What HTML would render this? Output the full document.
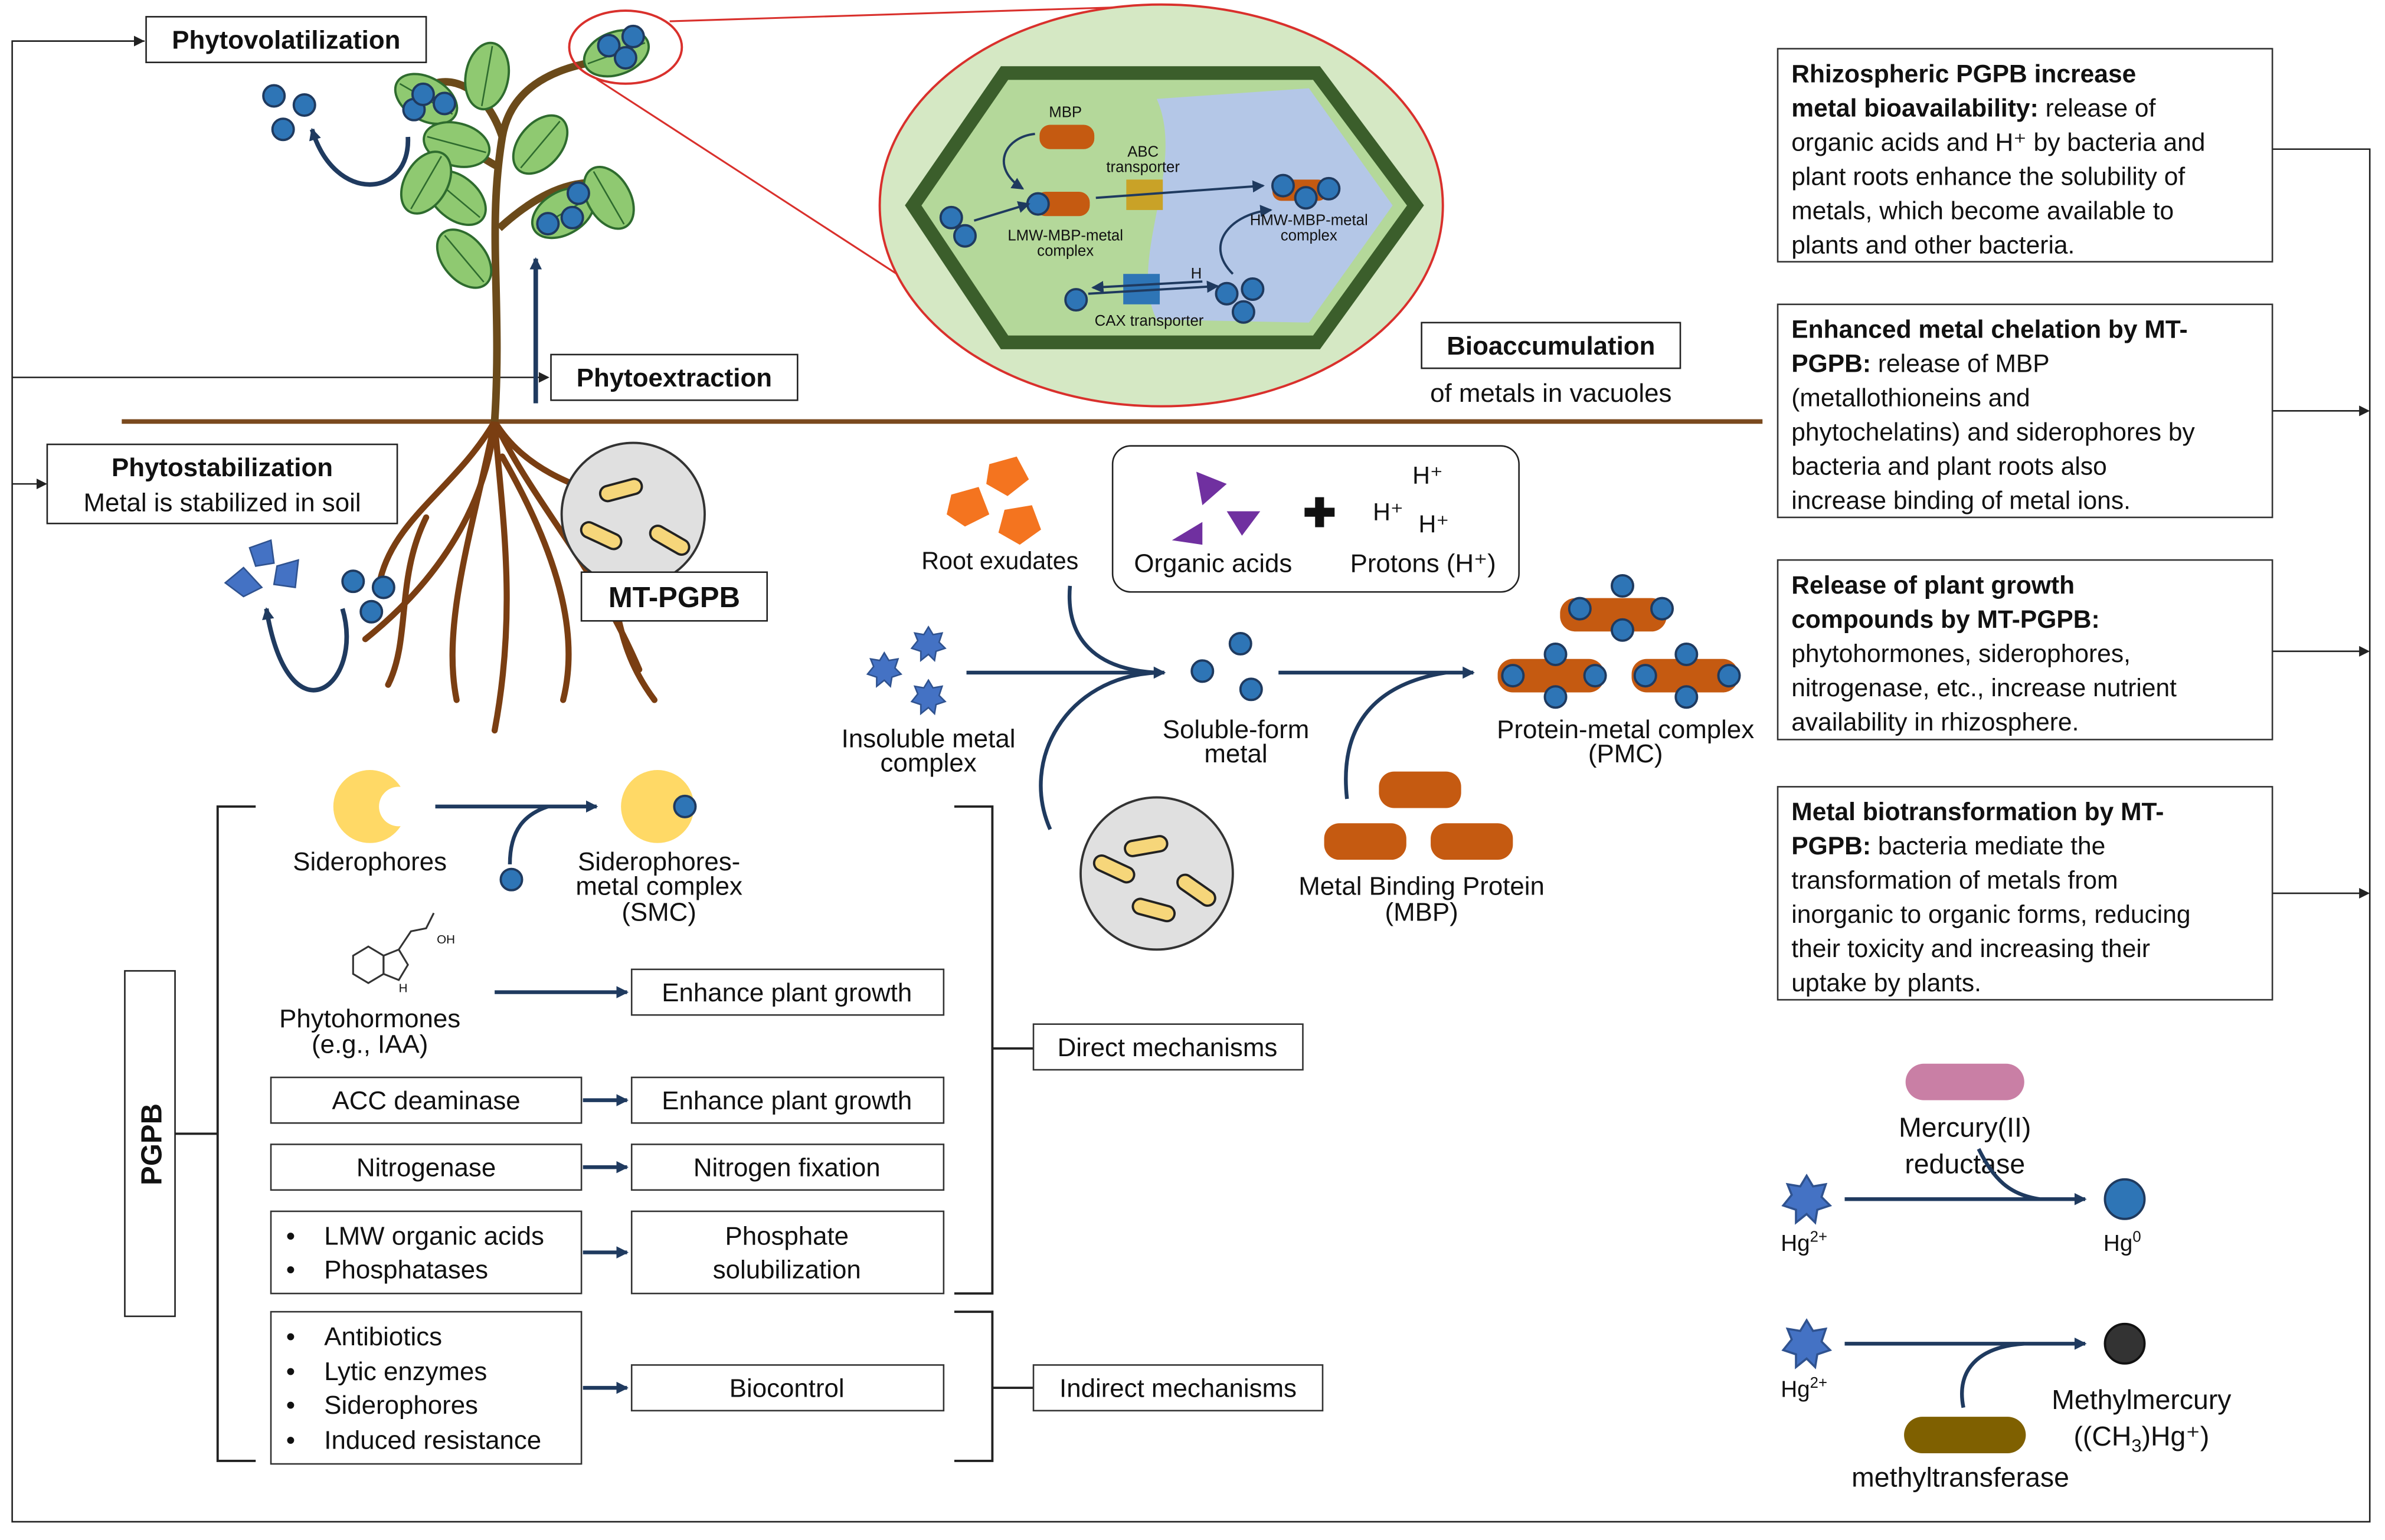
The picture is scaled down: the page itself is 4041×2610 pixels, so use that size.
<!DOCTYPE html>
<html><head><meta charset="utf-8"><style>
html,body{margin:0;padding:0;background:#fff}
svg{display:block}
text{font-family:"Liberation Sans",sans-serif;fill:#111}
</style></head><body>
<svg width="4041" height="2610" viewBox="0 0 1567 1012" preserveAspectRatio="none" xmlns="http://www.w3.org/2000/svg">
<defs>
<marker id="a" markerWidth="8" markerHeight="8" refX="7" refY="4" orient="auto" markerUnits="userSpaceOnUse"><path d="M0,0 L8,4 L0,8 z" fill="#1f3a5f"/></marker>
<marker id="k" markerWidth="7" markerHeight="7" refX="6" refY="3.5" orient="auto" markerUnits="userSpaceOnUse"><path d="M0,0 L7,3.5 L0,7 z" fill="#222"/></marker>
<g id="dot"><circle r="7" fill="#2e75b6" stroke="#1f3a5f" stroke-width="1.5"/></g>
<g id="star"><polygon points="0,-11 3,-6 9,-7 7,-1 11,3 5,5 4,11 0,7 -5,11 -5,5 -11,3 -7,-2 -9,-7 -3,-6" fill="#4472c4" stroke="#2f528f" stroke-width="1"/></g>
<g id="leaf"><ellipse rx="22" ry="14" fill="#8fc971" stroke="#2e6b2e" stroke-width="1.5"/><line x1="-20" y1="0" x2="20" y2="0" stroke="#2e6b2e"/></g>
<g id="bac"><rect x="-14" y="-5" width="28" height="10" rx="5" fill="#f6d67a" stroke="#222" stroke-width="1.5"/></g>
</defs>

<!-- outer frame -->
<g stroke="#222" stroke-width="1" fill="none">
<path d="M95,27 H8 V1000 H1557 V98 H1493"/>
<line x1="8" y1="248" x2="360" y2="248" marker-end="url(#k)"/>
<line x1="8" y1="318" x2="30" y2="318" marker-end="url(#k)"/>
<line x1="8" y1="27" x2="94" y2="27" marker-end="url(#k)"/>
<line x1="1493" y1="270" x2="1556" y2="270" marker-end="url(#k)"/>
<line x1="1493" y1="428" x2="1556" y2="428" marker-end="url(#k)"/>
<line x1="1493" y1="587" x2="1556" y2="587" marker-end="url(#k)"/>
</g>

<!-- ground -->
<line x1="80" y1="277" x2="1158" y2="277" stroke="#7a4a1e" stroke-width="3"/>

<!-- roots -->
<g stroke="#7a3e12" stroke-width="4" fill="none" stroke-linecap="round">
<path d="M325,277 C320,330 290,380 240,420"/>
<path d="M325,277 C330,340 340,400 325,480"/>
<path d="M325,277 C350,330 390,370 420,440"/>
<path d="M325,277 C300,320 260,340 250,380"/>
<path d="M325,277 C345,310 380,320 410,330"/>
<path d="M325,277 C310,350 290,410 300,460"/>
<path d="M330,300 C370,370 380,420 370,460"/>
<path d="M280,340 C260,380 270,420 255,450"/>
<path d="M390,360 C410,390 400,420 430,460"/>
</g>
<!-- stem -->
<g stroke="#6b4a1a" stroke-width="5" fill="none">
<path d="M325,277 C330,200 320,150 330,90 C335,60 360,45 395,40"/>
<path d="M328,150 C350,130 370,120 390,120"/>
<path d="M328,110 C300,95 290,80 270,70"/>
<path d="M330,90 C320,60 300,50 285,55"/>
</g>
<use href="#leaf" transform="translate(405,35) rotate(-20)"/>
<use href="#leaf" transform="translate(280,65) rotate(30)"/>
<use href="#leaf" transform="translate(300,95) rotate(15)"/>
<use href="#leaf" transform="translate(300,130) rotate(40)"/>
<use href="#leaf" transform="translate(280,120) rotate(-60)"/>
<use href="#leaf" transform="translate(305,170) rotate(50)"/>
<use href="#leaf" transform="translate(370,140) rotate(-30)"/>
<use href="#leaf" transform="translate(400,130) rotate(60)"/>
<use href="#leaf" transform="translate(355,95) rotate(-50)"/>
<use href="#leaf" transform="translate(320,50) rotate(-80)"/>
<g>
<use href="#dot" x="400" y="30"/><use href="#dot" x="416" y="24"/><use href="#dot" x="411" y="38"/>
<use href="#dot" x="272" y="72"/><use href="#dot" x="292" y="68"/><use href="#dot" x="278" y="62"/>
<use href="#dot" x="380" y="127"/><use href="#dot" x="360" y="147"/><use href="#dot" x="376" y="143"/>
<use href="#dot" x="180" y="63"/><use href="#dot" x="200" y="69"/><use href="#dot" x="186" y="85"/>
<use href="#dot" x="232" y="382"/><use href="#dot" x="252" y="386"/><use href="#dot" x="244" y="402"/>
</g>
<ellipse cx="411" cy="31" rx="37" ry="24" fill="none" stroke="#d9302c" stroke-width="1.5"/>
<line x1="440" y1="14" x2="760" y2="4" stroke="#d9302c" stroke-width="1.2"/>
<line x1="392" y1="52" x2="620" y2="200" stroke="#d9302c" stroke-width="1.2"/>
<path d="M268,90 C270,130 220,135 205,85" stroke="#1f3a5f" stroke-width="3" fill="none" marker-end="url(#a)"/>
<line x1="352" y1="265" x2="352" y2="170" stroke="#1f3a5f" stroke-width="3" marker-end="url(#a)"/>
<path d="M225,400 C240,450 190,490 175,400" stroke="#1f3a5f" stroke-width="3" fill="none" marker-end="url(#a)"/>
<g fill="#4472c4" stroke="#2f528f"><polygon points="148,383 160,373 172,386 160,392"/><polygon points="164,360 178,355 180,370 168,372"/><polygon points="182,372 196,368 194,386 180,384"/></g>

<!-- labels left -->
<rect x="96" y="11" width="184" height="30" fill="#fff" stroke="#222"/>
<text x="188" y="32" font-size="17" font-weight="bold" text-anchor="middle">Phytovolatilization</text>
<rect x="362" y="233" width="162" height="30" fill="#fff" stroke="#222"/>
<text x="443" y="254" font-size="17" font-weight="bold" text-anchor="middle">Phytoextraction</text>
<rect x="31" y="292" width="230" height="52" fill="#fff" stroke="#222"/>
<text x="146" y="313" font-size="17" font-weight="bold" text-anchor="middle">Phytostabilization</text>
<text x="146" y="336" font-size="17" text-anchor="middle">Metal is stabilized in soil</text>

<!-- MT-PGPB -->
<circle cx="416" cy="338" r="47" fill="#e0e0e0" stroke="#333" stroke-width="1.5"/>
<use href="#bac" transform="translate(408,322) rotate(-15)"/>
<use href="#bac" transform="translate(395,352) rotate(25)"/>
<use href="#bac" transform="translate(440,355) rotate(30)"/>
<rect x="382" y="376" width="122" height="32" fill="#fff" stroke="#222"/>
<text x="443" y="399" font-size="19" font-weight="bold" text-anchor="middle">MT-PGPB</text>

<!-- cell -->
<ellipse cx="763" cy="135" rx="185" ry="132" fill="#d5e8c4" stroke="#d9302c" stroke-width="1.5"/>
<polygon points="600,135 660,48 865,48 930,135 865,225 660,225" fill="#b4d89a" stroke="#3b5e2b" stroke-width="9"/>
<path d="M760,65 L860,58 L915,135 L860,212 L760,210 C740,170 780,110 760,65z" fill="#b4c7e7"/>
<g fill="#c55a11"><rect x="683" y="82" width="36" height="16" rx="7"/><rect x="680" y="126" width="36" height="16" rx="7"/><rect x="836" y="118" width="36" height="14" rx="6"/></g>
<rect x="740" y="118" width="24" height="20" fill="#c9a227"/>
<rect x="738" y="180" width="24" height="20" fill="#2e75b6"/>
<use href="#dot" x="625" y="143"/><use href="#dot" x="634" y="155"/><use href="#dot" x="682" y="134"/>
<use href="#dot" x="843" y="122"/><use href="#dot" x="858" y="130"/><use href="#dot" x="873" y="124"/>
<use href="#dot" x="707" y="197"/><use href="#dot" x="806" y="193"/><use href="#dot" x="823" y="190"/><use href="#dot" x="817" y="205"/>
<g stroke="#1f3a5f" stroke-width="1.5" fill="none">
<line x1="640" y1="145" x2="676" y2="134" marker-end="url(#a)"/>
<path d="M680,88 C660,90 650,110 672,124" marker-end="url(#a)"/>
<line x1="720" y1="130" x2="830" y2="122" marker-end="url(#a)"/>
<line x1="715" y1="193" x2="800" y2="188" marker-end="url(#a)"/>
<line x1="790" y1="185" x2="718" y2="189" marker-end="url(#a)"/>
<path d="M810,180 C790,160 810,140 835,138" marker-end="url(#a)"/>
</g>
<g font-size="10" text-anchor="middle">
<text x="700" y="77">MBP</text><text x="751" y="103">ABC</text><text x="751" y="113">transporter</text>
<text x="700" y="158">LMW-MBP-metal</text><text x="700" y="168">complex</text>
<text x="860" y="148">HMW-MBP-metal</text><text x="860" y="158">complex</text>
<text x="755" y="214">CAX transporter</text><text x="786" y="183">H</text>
</g>
<rect x="934" y="212" width="170" height="30" fill="#fff" stroke="#222"/>
<text x="1019" y="233" font-size="17" font-weight="bold" text-anchor="middle">Bioaccumulation</text>
<text x="1019" y="264" font-size="17" text-anchor="middle">of metals in vacuoles</text>

<!-- right boxes -->
<g font-size="16.5">
<rect x="1168" y="32" width="325" height="140" fill="#fff" stroke="#333"/>
<text x="1177" y="54"><tspan font-weight="bold">Rhizospheric PGPB increase</tspan><tspan x="1177" dy="22.5" font-weight="bold">metal bioavailability:</tspan><tspan> release of</tspan><tspan x="1177" dy="22.5">organic acids and H⁺ by bacteria and</tspan><tspan x="1177" dy="22.5">plant roots enhance the solubility of</tspan><tspan x="1177" dy="22.5">metals, which become available to</tspan><tspan x="1177" dy="22.5">plants and other bacteria.</tspan></text>
<rect x="1168" y="200" width="325" height="140" fill="#fff" stroke="#333"/>
<text x="1177" y="222"><tspan font-weight="bold">Enhanced metal chelation by MT-</tspan><tspan x="1177" dy="22.5" font-weight="bold">PGPB:</tspan><tspan> release of MBP</tspan><tspan x="1177" dy="22.5">(metallothioneins and</tspan><tspan x="1177" dy="22.5">phytochelatins) and siderophores by</tspan><tspan x="1177" dy="22.5">bacteria and plant roots also</tspan><tspan x="1177" dy="22.5">increase binding of metal ions.</tspan></text>
<rect x="1168" y="368" width="325" height="118" fill="#fff" stroke="#333"/>
<text x="1177" y="390"><tspan font-weight="bold">Release of plant growth</tspan><tspan x="1177" dy="22.5" font-weight="bold">compounds by MT-PGPB:</tspan><tspan x="1177" dy="22.5">phytohormones, siderophores,</tspan><tspan x="1177" dy="22.5">nitrogenase, etc., increase nutrient</tspan><tspan x="1177" dy="22.5">availability in rhizosphere.</tspan></text>
<rect x="1168" y="517" width="325" height="140" fill="#fff" stroke="#333"/>
<text x="1177" y="539"><tspan font-weight="bold">Metal biotransformation by MT-</tspan><tspan x="1177" dy="22.5" font-weight="bold">PGPB:</tspan><tspan> bacteria mediate the</tspan><tspan x="1177" dy="22.5">transformation of metals from</tspan><tspan x="1177" dy="22.5">inorganic to organic forms, reducing</tspan><tspan x="1177" dy="22.5">their toxicity and increasing their</tspan><tspan x="1177" dy="22.5">uptake by plants.</tspan></text>
</g>

<!-- middle -->
<g fill="#f4741f"><polygon points="650,305 668,300 676,315 662,326 648,318"/><polygon points="625,325 643,320 650,338 634,346 622,338"/><polygon points="660,335 678,332 684,348 670,358 656,350"/></g>
<text x="657" y="374" font-size="16" text-anchor="middle">Root exudates</text>
<rect x="731" y="293" width="267" height="96" rx="12" fill="#fff" stroke="#222"/>
<g fill="#7030a0"><polygon points="786,310 806,318 790,332"/><polygon points="770,355 790,343 790,358"/><polygon points="806,336 828,336 816,352"/></g>
<text x="867" y="346" font-size="26" font-weight="bold" text-anchor="middle">✚</text>
<text x="928" y="318" font-size="16">H⁺</text><text x="902" y="342" font-size="16">H⁺</text><text x="932" y="350" font-size="16">H⁺</text>
<text x="797" y="376" font-size="17" text-anchor="middle">Organic acids</text>
<text x="935" y="376" font-size="17" text-anchor="middle">Protons (H⁺)</text>
<use href="#star" x="610" y="423"/><use href="#star" x="581" y="440"/><use href="#star" x="610" y="458"/>
<text x="610" y="491" font-size="17" text-anchor="middle">Insoluble metal</text>
<text x="610" y="507" font-size="17" text-anchor="middle">complex</text>
<use href="#dot" x="815" y="423"/><use href="#dot" x="790" y="441"/><use href="#dot" x="822" y="453"/>
<text x="812" y="485" font-size="17" text-anchor="middle">Soluble-form</text>
<text x="812" y="501" font-size="17" text-anchor="middle">metal</text>
<g stroke="#1f3a5f" stroke-width="2.5" fill="none">
<line x1="635" y1="442" x2="765" y2="442" marker-end="url(#a)"/>
<path d="M703,385 C700,420 720,440 760,442"/>
<path d="M690,545 C670,500 700,445 760,442"/>
<line x1="840" y1="442" x2="968" y2="442" marker-end="url(#a)"/>
<path d="M885,525 C880,480 900,450 950,442"/>
</g>
<circle cx="760" cy="574" r="50" fill="#e0e0e0" stroke="#333" stroke-width="1.5"/>
<use href="#bac" transform="translate(753,556) rotate(-10)"/>
<use href="#bac" transform="translate(732,571) rotate(25)"/>
<use href="#bac" transform="translate(786,585) rotate(35)"/>
<use href="#bac" transform="translate(758,598) rotate(15)"/>
<g fill="#c55a11">
<rect x="1025" y="393" width="70" height="22" rx="10"/><rect x="984" y="433" width="70" height="22" rx="10"/><rect x="1072" y="433" width="70" height="22" rx="10"/>
<rect x="906" y="507" width="54" height="24" rx="10"/><rect x="870" y="541" width="54" height="24" rx="10"/><rect x="940" y="541" width="54" height="24" rx="10"/>
</g>
<use href="#dot" x="1066" y="385"/><use href="#dot" x="1038" y="400"/><use href="#dot" x="1092" y="400"/><use href="#dot" x="1066" y="414"/>
<use href="#dot" x="1022" y="430"/><use href="#dot" x="994" y="444"/><use href="#dot" x="1048" y="444"/><use href="#dot" x="1022" y="458"/>
<use href="#dot" x="1108" y="430"/><use href="#dot" x="1081" y="444"/><use href="#dot" x="1136" y="444"/><use href="#dot" x="1108" y="458"/>
<text x="1068" y="485" font-size="17" text-anchor="middle">Protein-metal complex</text>
<text x="1068" y="501" font-size="17" text-anchor="middle">(PMC)</text>
<text x="934" y="588" font-size="17" text-anchor="middle">Metal Binding Protein</text>
<text x="934" y="605" font-size="17" text-anchor="middle">(MBP)</text>

<!-- siderophores -->
<circle cx="243" cy="530" r="24" fill="#ffd966"/><circle cx="262" cy="530" r="13" fill="#fff"/>
<circle cx="432" cy="530" r="24" fill="#ffd966"/><use href="#dot" x="450" y="530"/>
<text x="243" y="572" font-size="17" text-anchor="middle">Siderophores</text>
<line x1="286" y1="530" x2="392" y2="530" stroke="#1f3a5f" stroke-width="2.5" marker-end="url(#a)"/>
<path d="M335,568 C335,545 345,535 360,530" stroke="#1f3a5f" stroke-width="2.5" fill="none"/>
<use href="#dot" x="336" y="578"/>
<text x="433" y="572" font-size="17" text-anchor="middle">Siderophores-</text>
<text x="433" y="588" font-size="17" text-anchor="middle">metal complex</text>
<text x="433" y="605" font-size="17" text-anchor="middle">(SMC)</text>
<g stroke="#333" fill="none" stroke-width="1.2"><polygon points="232,628 242,622 252,628 252,640 242,646 232,640"/><polygon points="252,628 262,624 268,634 262,644 252,640"/><path d="M262,624 L270,612 L280,610 L285,600"/></g>
<text x="287" y="620" font-size="8">OH</text><text x="262" y="652" font-size="8">H</text>
<text x="243" y="675" font-size="17" text-anchor="middle">Phytohormones</text>
<text x="243" y="692" font-size="17" text-anchor="middle">(e.g., IAA)</text>
<line x1="325" y1="652" x2="412" y2="652" stroke="#1f3a5f" stroke-width="2.5" marker-end="url(#a)"/>

<!-- PGPB bracket/boxes -->
<rect x="82" y="638" width="33" height="227" fill="#fff" stroke="#222"/>
<text transform="translate(106,752) rotate(-90)" font-size="19" font-weight="bold" text-anchor="middle">PGPB</text>
<g stroke="#222" stroke-width="1.5" fill="none">
<line x1="115" y1="745" x2="143" y2="745"/>
<path d="M168,530 H143 V960 H168"/>
<path d="M627,530 H652 V850 H627"/><line x1="652" y1="689" x2="679" y2="689"/>
<path d="M627,862 H652 V960 H627"/><line x1="652" y1="912" x2="679" y2="912"/>
</g>
<g stroke="#333" fill="#fff">
<rect x="415" y="637" width="205" height="30"/>
<rect x="178" y="708" width="204" height="30"/><rect x="415" y="708" width="205" height="30"/>
<rect x="178" y="752" width="204" height="30"/><rect x="415" y="752" width="205" height="30"/>
<rect x="178" y="796" width="204" height="54"/><rect x="415" y="796" width="205" height="54"/>
<rect x="178" y="862" width="204" height="100"/><rect x="415" y="897" width="205" height="30"/>
<rect x="679" y="673" width="177" height="30"/><rect x="679" y="897" width="190" height="30"/>
</g>
<g stroke="#1f3a5f" stroke-width="2.5">
<line x1="383" y1="723" x2="412" y2="723" marker-end="url(#a)"/>
<line x1="383" y1="767" x2="412" y2="767" marker-end="url(#a)"/>
<line x1="383" y1="823" x2="412" y2="823" marker-end="url(#a)"/>
<line x1="383" y1="912" x2="412" y2="912" marker-end="url(#a)"/>
</g>
<g font-size="17" text-anchor="middle">
<text x="517" y="658">Enhance plant growth</text>
<text x="280" y="729">ACC deaminase</text><text x="517" y="729">Enhance plant growth</text>
<text x="280" y="773">Nitrogenase</text><text x="517" y="773">Nitrogen fixation</text>
<text x="517" y="818">Phosphate</text><text x="517" y="840">solubilization</text>
<text x="517" y="918">Biocontrol</text>
<text x="767" y="694">Direct mechanisms</text><text x="774" y="918">Indirect mechanisms</text>
</g>
<g font-size="17">
<text x="188" y="818">•</text><text x="213" y="818">LMW organic acids</text>
<text x="188" y="840">•</text><text x="213" y="840">Phosphatases</text>
<text x="188" y="884">•</text><text x="213" y="884">Antibiotics</text>
<text x="188" y="907">•</text><text x="213" y="907">Lytic enzymes</text>
<text x="188" y="929">•</text><text x="213" y="929">Siderophores</text>
<text x="188" y="952">•</text><text x="213" y="952">Induced resistance</text>
</g>

<!-- Hg -->
<rect x="1252" y="699" width="78" height="24" rx="12" fill="#c97fa5"/>
<text x="1291" y="747" font-size="18" text-anchor="middle">Mercury(II)</text>
<text x="1291" y="771" font-size="18" text-anchor="middle">reductase</text>
<use href="#star" transform="translate(1187,788) scale(1.4)"/>
<text x="1170" y="822" font-size="15">Hg<tspan font-size="10" dy="-6">2+</tspan></text>
<line x1="1212" y1="788" x2="1370" y2="788" stroke="#1f3a5f" stroke-width="2.5" marker-end="url(#a)"/>
<path d="M1300,755 C1310,775 1320,785 1340,788" stroke="#1f3a5f" stroke-width="2.5" fill="none"/>
<circle cx="1396" cy="788" r="13" fill="#2e75b6" stroke="#1f3a5f" stroke-width="1.5"/>
<text x="1382" y="822" font-size="15">Hg<tspan font-size="10" dy="-6">0</tspan></text>
<use href="#star" transform="translate(1187,883) scale(1.4)"/>
<text x="1170" y="918" font-size="15">Hg<tspan font-size="10" dy="-6">2+</tspan></text>
<line x1="1212" y1="883" x2="1370" y2="883" stroke="#1f3a5f" stroke-width="2.5" marker-end="url(#a)"/>
<path d="M1290,925 C1285,900 1300,885 1330,883" stroke="#1f3a5f" stroke-width="2.5" fill="none"/>
<circle cx="1396" cy="883" r="13" fill="#333" stroke="#111" stroke-width="1.5"/>
<rect x="1251" y="931" width="80" height="24" rx="12" fill="#7f6000"/>
<text x="1407" y="926" font-size="18" text-anchor="middle">Methylmercury</text>
<text x="1407" y="950" font-size="18" text-anchor="middle">((CH<tspan font-size="12" dy="4">3</tspan><tspan dy="-4">)Hg⁺)</tspan></text>
<text x="1288" y="977" font-size="18" text-anchor="middle">methyltransferase</text>
</svg>
</body></html>
